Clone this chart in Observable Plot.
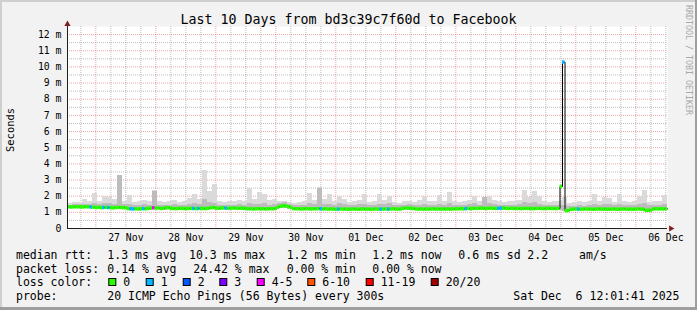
<!DOCTYPE html>
<html><head><meta charset="utf-8">
<script src="https://cdn.jsdelivr.net/npm/d3@7"></script>
<script src="https://cdn.jsdelivr.net/npm/@observablehq/plot@0.6"></script>
<style>
html,body{margin:0;padding:0;background:#f2f2f2;}
#chart svg{display:block;}
</style></head><body><div id="chart"></div>
<script>
// ---------- data ----------
const title = "Last 10 Days from bd3c39c7f60d to Facebook";
const yLabel = "Seconds";
const watermark = "RRDTOOL / TOBI OETIKER";
const startUTC = "2025-11-26T12:40:00Z";
const endUTC = "2025-12-06T12:40:00Z";
const dayNoons = ["2025-11-27T12:00:00Z","2025-11-28T12:00:00Z","2025-11-29T12:00:00Z","2025-11-30T12:00:00Z","2025-12-01T12:00:00Z","2025-12-02T12:00:00Z","2025-12-03T12:00:00Z","2025-12-04T12:00:00Z","2025-12-05T12:00:00Z","2025-12-06T12:00:00Z"];
const dayLabels = ["27 Nov","28 Nov","29 Nov","30 Nov","01 Dec","02 Dec","03 Dec","04 Dec","05 Dec","06 Dec"];
const yTicks = [0,1,2,3,4,5,6,7,8,9,10,11,12];

// median rtt (ms), one value per hour from start
const medianRtt = [
1.34,1.33,1.34,1.35,1.34,1.33,1.34,1.35,1.34,1.33,1.32,
1.30,1.31,1.29,1.30,1.31,1.30,1.29,1.28,1.30,1.31,1.30,1.29,1.28,
1.23,1.22,1.21,1.22,1.21,1.22,1.23,1.22,1.24,
1.27,1.28,1.26,1.27,
1.24,1.25,1.30,1.29,1.25,1.24,1.23,1.24,1.25,1.24,1.23,1.24,1.25,1.24,1.23,1.24,1.25,1.24,1.23,1.25,1.29,1.30,1.26,1.25,
1.26,1.27,1.26,1.25,1.26,1.27,1.26,1.25,1.26,1.25,1.24,
1.22,1.22,1.21,1.22,1.23,1.22,1.22,1.21,1.22,1.23,1.22,1.26,
1.33,1.38,1.41,1.40,1.36,1.30,
1.23,1.22,1.22,1.21,1.22,1.23,1.22,1.21,1.22,1.22,1.23,1.22,1.21,1.22,
1.20,1.21,1.20,1.19,1.20,1.21,1.20,1.20,1.19,1.20,1.21,1.20,1.19,1.20,1.21,1.20,1.20,1.19,1.20,1.21,1.20,1.20,
1.20,1.21,1.20,1.21,1.22,1.21,1.20,1.21,
1.25,1.27,1.26,1.25,1.24,
1.21,1.20,1.21,1.20,1.21,1.20,1.21,1.22,1.20,1.21,1.20,1.21,1.20,1.21,1.20,1.21,1.22,
1.22,1.23,1.22,1.23,1.24,1.23,
1.25,1.24,1.25,1.26,1.25,1.24,1.25,1.26,1.25,1.24,1.25,1.26,1.27,1.25,1.24,1.25,
1.24,1.25,1.24,1.23,1.24,1.25,1.24,1.24,1.23,1.24,1.25,1.24,1.23,1.24,1.25,1.24,1.24,1.23,1.24,
2.60,10.30,
1.11,1.11,
1.19,1.20,1.21,1.20,1.19,1.20,1.21,1.20,1.20,1.19,1.20,1.21,1.20,1.20,
1.20,1.19,1.20,1.21,1.20,1.19,1.20,1.21,1.20,1.19,1.20,1.19,1.20,1.21,1.20,1.19,
1.12,1.13,1.14,
1.21,1.22,1.21,1.22,1.21,1.22
];
// hours with packet loss, and lost pings out of 20
const lossHours  = [9,14,16,25,26,30,34,50,52,63,101,108,125,128,159,172,173,198,204];
const lossCounts = [1,1,1,1,1,1,4,1,1,1,1,1,1,1,1,1,1,1,1];

// smoke (ping spread), one value per 2 hours
const smokeMin = [
1.24,1.24,1.23,1.24,1.22,1.22,1.21,1.20,1.20,1.19,
1.18,1.19,1.13,1.12,1.13,1.12,1.14,1.16,1.15,1.14,
1.15,1.14,1.15,1.14,1.15,1.14,1.15,1.14,1.15,1.16,
1.16,1.17,1.16,1.15,1.16,1.15,1.12,1.12,1.11,1.12,
1.12,1.14,1.22,1.26,1.20,1.12,1.13,1.12,1.12,1.13,
1.12,1.13,1.10,1.10,1.11,1.10,1.10,1.11,1.10,1.10,
1.10,1.11,1.10,1.11,1.11,1.11,1.10,1.15,1.14,1.11,
1.10,1.11,1.10,1.11,1.10,1.10,1.11,1.10,1.12,1.13,
1.14,1.15,1.14,1.15,1.15,1.14,1.15,1.14,1.15,1.14,
1.14,1.15,1.14,1.13,1.14,1.15,1.14,1.14,1.14,1.05,
1.05,1.10,1.10,1.09,1.10,1.10,1.11,1.10,1.10,1.10,
1.10,1.09,1.10,1.10,1.11,1.10,1.04,1.11,1.11,1.11];
const smokeMid = [
1.45,1.46,1.48,1.50,1.47,1.52,1.48,1.55,1.52,1.50,
3.25,1.48,1.50,1.42,1.45,1.46,1.44,2.30,1.45,1.42,
1.44,1.46,1.42,1.45,1.48,1.55,1.50,1.80,1.60,1.55,
1.45,1.42,1.45,1.43,1.46,1.44,1.55,1.48,1.50,1.52,
1.45,1.48,1.55,1.60,1.48,1.40,1.42,1.45,1.55,1.46,
2.50,1.48,1.50,1.44,1.52,1.48,1.42,1.44,1.46,1.50,
1.40,1.42,1.50,1.46,1.52,1.42,1.40,1.44,1.46,1.42,
1.45,1.50,1.42,1.44,1.50,1.44,1.52,1.42,1.40,1.44,
1.46,1.52,1.45,1.90,1.55,1.46,1.44,1.42,1.45,1.43,
1.46,1.60,1.52,1.58,1.50,1.45,1.42,1.44,1.45,1.40,
1.35,1.38,1.40,1.38,1.42,1.50,1.42,1.48,1.46,1.40,
1.50,1.44,1.40,1.42,1.48,1.55,1.40,1.42,1.44,1.48];
const smokeMax = [
1.55,1.60,1.62,1.78,1.65,2.15,1.70,1.95,1.90,1.80,
3.30,1.70,2.05,1.60,1.70,1.75,1.65,2.35,1.70,1.60,
1.65,1.75,1.60,1.70,1.85,2.10,1.80,3.60,2.30,2.70,
1.70,1.60,1.70,1.65,1.75,1.70,2.50,1.80,2.20,2.10,
1.75,1.80,1.70,1.65,1.60,1.55,1.60,1.70,2.15,1.75,
2.55,1.80,2.10,1.70,1.95,1.80,1.60,1.65,1.75,2.10,
1.60,1.65,2.10,1.75,2.00,1.60,1.55,1.65,1.70,1.60,
1.75,1.95,1.65,1.70,2.05,1.70,2.25,1.65,1.60,1.70,
1.75,2.00,1.70,1.85,2.00,1.75,1.65,1.60,1.70,1.65,
1.75,2.35,1.90,2.30,2.00,1.70,1.60,1.65,1.70,1.90,
1.55,1.60,1.65,1.60,1.70,2.10,1.65,1.90,1.85,1.60,
2.10,1.70,1.60,1.65,1.95,2.35,1.60,1.65,1.70,2.05];

const lossLabels = ["0","1","2","3","4-5","6-10","11-19","20/20"];
const lossUpper  = [0,1,2,3,5,10,19,20];
const lossColors = ["#26ff00","#00b8ff","#0059ff","#7e00ff","#ff00ff","#ff5500","#ff0000","#a10000"];

const rttStats  = ["median rtt:","1.3 ms avg","10.3 ms max","1.2 ms min","1.2 ms now","0.6 ms sd","2.2","am/s"];
const lossStats = ["packet loss:","0.14 % avg","24.42 % max","0.00 % min","0.00 % now"];
const lossColorTitle = "loss color:";
const probeStats = ["probe:","20 ICMP Echo Pings (56 Bytes) every 300s","Sat Dec  6 12:01:41 2025"];

// ---------- build tables ----------
const start = new Date(startUTC), end = new Date(endUTC);
const H = 3600e3;
const lossMap = new Map(lossHours.map((h,i)=>[h, lossCounts[i]]));
const colorFor = n => lossColors[lossUpper.findIndex(u => n <= u)];
const med = medianRtt.map((v,i)=>({
  t0: new Date(+start + i*H), t1: new Date(+start + (i+1)*H), rtt: v,
  color: colorFor(lossMap.get(i) || 0)
}));
const stepPts = med.map(d=>({t: d.t0, rtt: d.rtt})).concat([{t: end, rtt: medianRtt[medianRtt.length-1]}]);
const smoke = smokeMax.map((v,i)=>({
  t0: new Date(+start + 2*i*H), t1: new Date(+start + 2*(i+1)*H),
  min: smokeMin[i], mid: smokeMid[i], max: v
}));
const noonDates = dayNoons.map(s=>new Date(s));
const labelOf = new Map(noonDates.map((d,i)=>[+d, dayLabels[i]]));
const midnights = d3.utcDay.range(start, end);
const sixHours = d3.utcHour.every(6).range(start, end).filter(d=>d.getUTCHours()!==0);
const halfLines = yTicks.slice(0,-1).map(v=>v+0.5);
const majorLines = yTicks.slice(1);

const MONO = "'DejaVu Sans Mono', monospace";
const gridGray = {stroke:"#8f8f8f", strokeOpacity:0.6, strokeDasharray:"1,1"};
const gridRed = {stroke:"rgb(222,79,79)", strokeOpacity:0.5, strokeDasharray:"1,1"};

const chart = Plot.plot({
  width: 697, height: 310,
  marginLeft: 67, marginRight: 30, marginTop: 26, marginBottom: 82,
  style: {background:"#f2f2f2", fontFamily: MONO, color:"#000", overflow:"visible"},
  x: {type:"utc", domain:[start, end]},
  y: {domain:[0, 12.5]},
  color: {type:"identity"},
  marks: [
    Plot.frame({fill:"white", stroke:null}),
    Plot.ruleY(halfLines, gridGray),
    Plot.ruleX(sixHours, gridGray),
    Plot.ruleY(majorLines, gridRed),
    Plot.ruleX(midnights, gridRed),
    Plot.rect(smoke, {x1:"t0", x2:"t1", y1:"min", y2:"max", fill:"#dadada", shapeRendering:"crispEdges"}),
    Plot.rect(smoke, {x1:"t0", x2:"t1", y1:"min", y2:"mid", fill:"#bcbcbc", shapeRendering:"crispEdges"}),
    Plot.line(stepPts, {x:"t", y:"rtt", curve:"step-after", stroke:"#000", strokeWidth:1}),
    Plot.ruleY(med, {x1:"t0", x2:"t1", y:"rtt", stroke:"color", strokeWidth:3.5}),
    Plot.ruleY([0], {stroke:"#1f1f1f"}),
    Plot.ruleX([start], {stroke:"#1f1f1f"}),
    Plot.dot([{t:end, v:0}], {x:"t", y:"v", symbol:"triangle", rotate:90, r:2.3, dx:3.4, fill:"#801f1f", stroke:null}),
    Plot.dot([{t:start, v:12.5}], {x:"t", y:"v", symbol:"triangle", r:2.3, dy:-2.3, fill:"#801f1f", stroke:null}),
    Plot.axisY(yTicks, {tickSize:0, tickPadding:6, fontSize:9.8, label:null, tickFormat:d=> d===0 ? "0" : d+" m"}),
    Plot.axisX(noonDates, {tickSize:0, tickPadding:6, fontSize:9.8, label:null, tickFormat:d=>labelOf.get(+d)})
  ]
});
document.getElementById("chart").appendChild(chart);

// ---------- decorations: frame shading, title, labels, legend ----------
const svg = d3.select(chart);
const W = 697, Ht = 310;
const shadeLow = svg.insert("g", ":first-child");
shadeLow.append("rect").attr("x",0).attr("y",0).attr("width",W).attr("height",2).attr("fill","#cfcfcf");
shadeLow.append("rect").attr("x",0).attr("y",0).attr("width",2).attr("height",Ht).attr("fill","#cfcfcf");
const shadeHigh = svg.append("g");
shadeHigh.append("rect").attr("x",W-2).attr("y",0).attr("width",2).attr("height",Ht).attr("fill","#9e9e9e");
shadeHigh.append("rect").attr("x",0).attr("y",Ht-3).attr("width",W).attr("height",3).attr("fill","#9e9e9e");

const T = svg.append("g").attr("font-family", MONO).attr("fill","#000")
  .attr("text-anchor","start").style("white-space","pre");
T.append("text").attr("x",348.5).attr("y",24).attr("text-anchor","middle").attr("font-size",13.3).text(title);
T.append("text").attr("transform","translate(14,130) rotate(-90)").attr("text-anchor","middle").attr("font-size",10.4).text(yLabel);
T.append("text").attr("transform","translate(686,5) rotate(90)").attr("text-anchor","start").attr("font-size",8.3).attr("fill","#a8a8a8").text(watermark);

const LF = 11.5;
const rowY = [259, 272.5, 286, 300];
const rttX = [16, 107.3, 189, 286.7, 372.3, 458.3, 527.3, 579];
rttStats.forEach((s,i)=>T.append("text").attr("x",rttX[i]).attr("y",rowY[0]).attr("font-size",LF).text(s));
const lossX = [16, 107.3, 193.3, 286.7, 372.3];
lossStats.forEach((s,i)=>T.append("text").attr("x",lossX[i]).attr("y",rowY[1]).attr("font-size",LF).text(s));
T.append("text").attr("x",16).attr("y",rowY[2]).attr("font-size",LF).text(lossColorTitle);
const boxX = [108.3, 145.7, 182.7, 219.3, 256.7, 307.3, 365.7, 430.7];
lossLabels.forEach((s,i)=>{
  T.append("rect").attr("x",boxX[i]+0.5).attr("y",278.5).attr("width",7).attr("height",7)
    .attr("fill",lossColors[i]).attr("stroke","#000").attr("stroke-width",1);
  T.append("text").attr("x",boxX[i]+15).attr("y",rowY[2]).attr("font-size",LF).text(s);
});
const probeX = [16, 107.3, 513.3];
probeStats.forEach((s,i)=>T.append("text").attr("x",probeX[i]).attr("y",rowY[3]).attr("font-size",LF).text(s));
</script></body></html>
